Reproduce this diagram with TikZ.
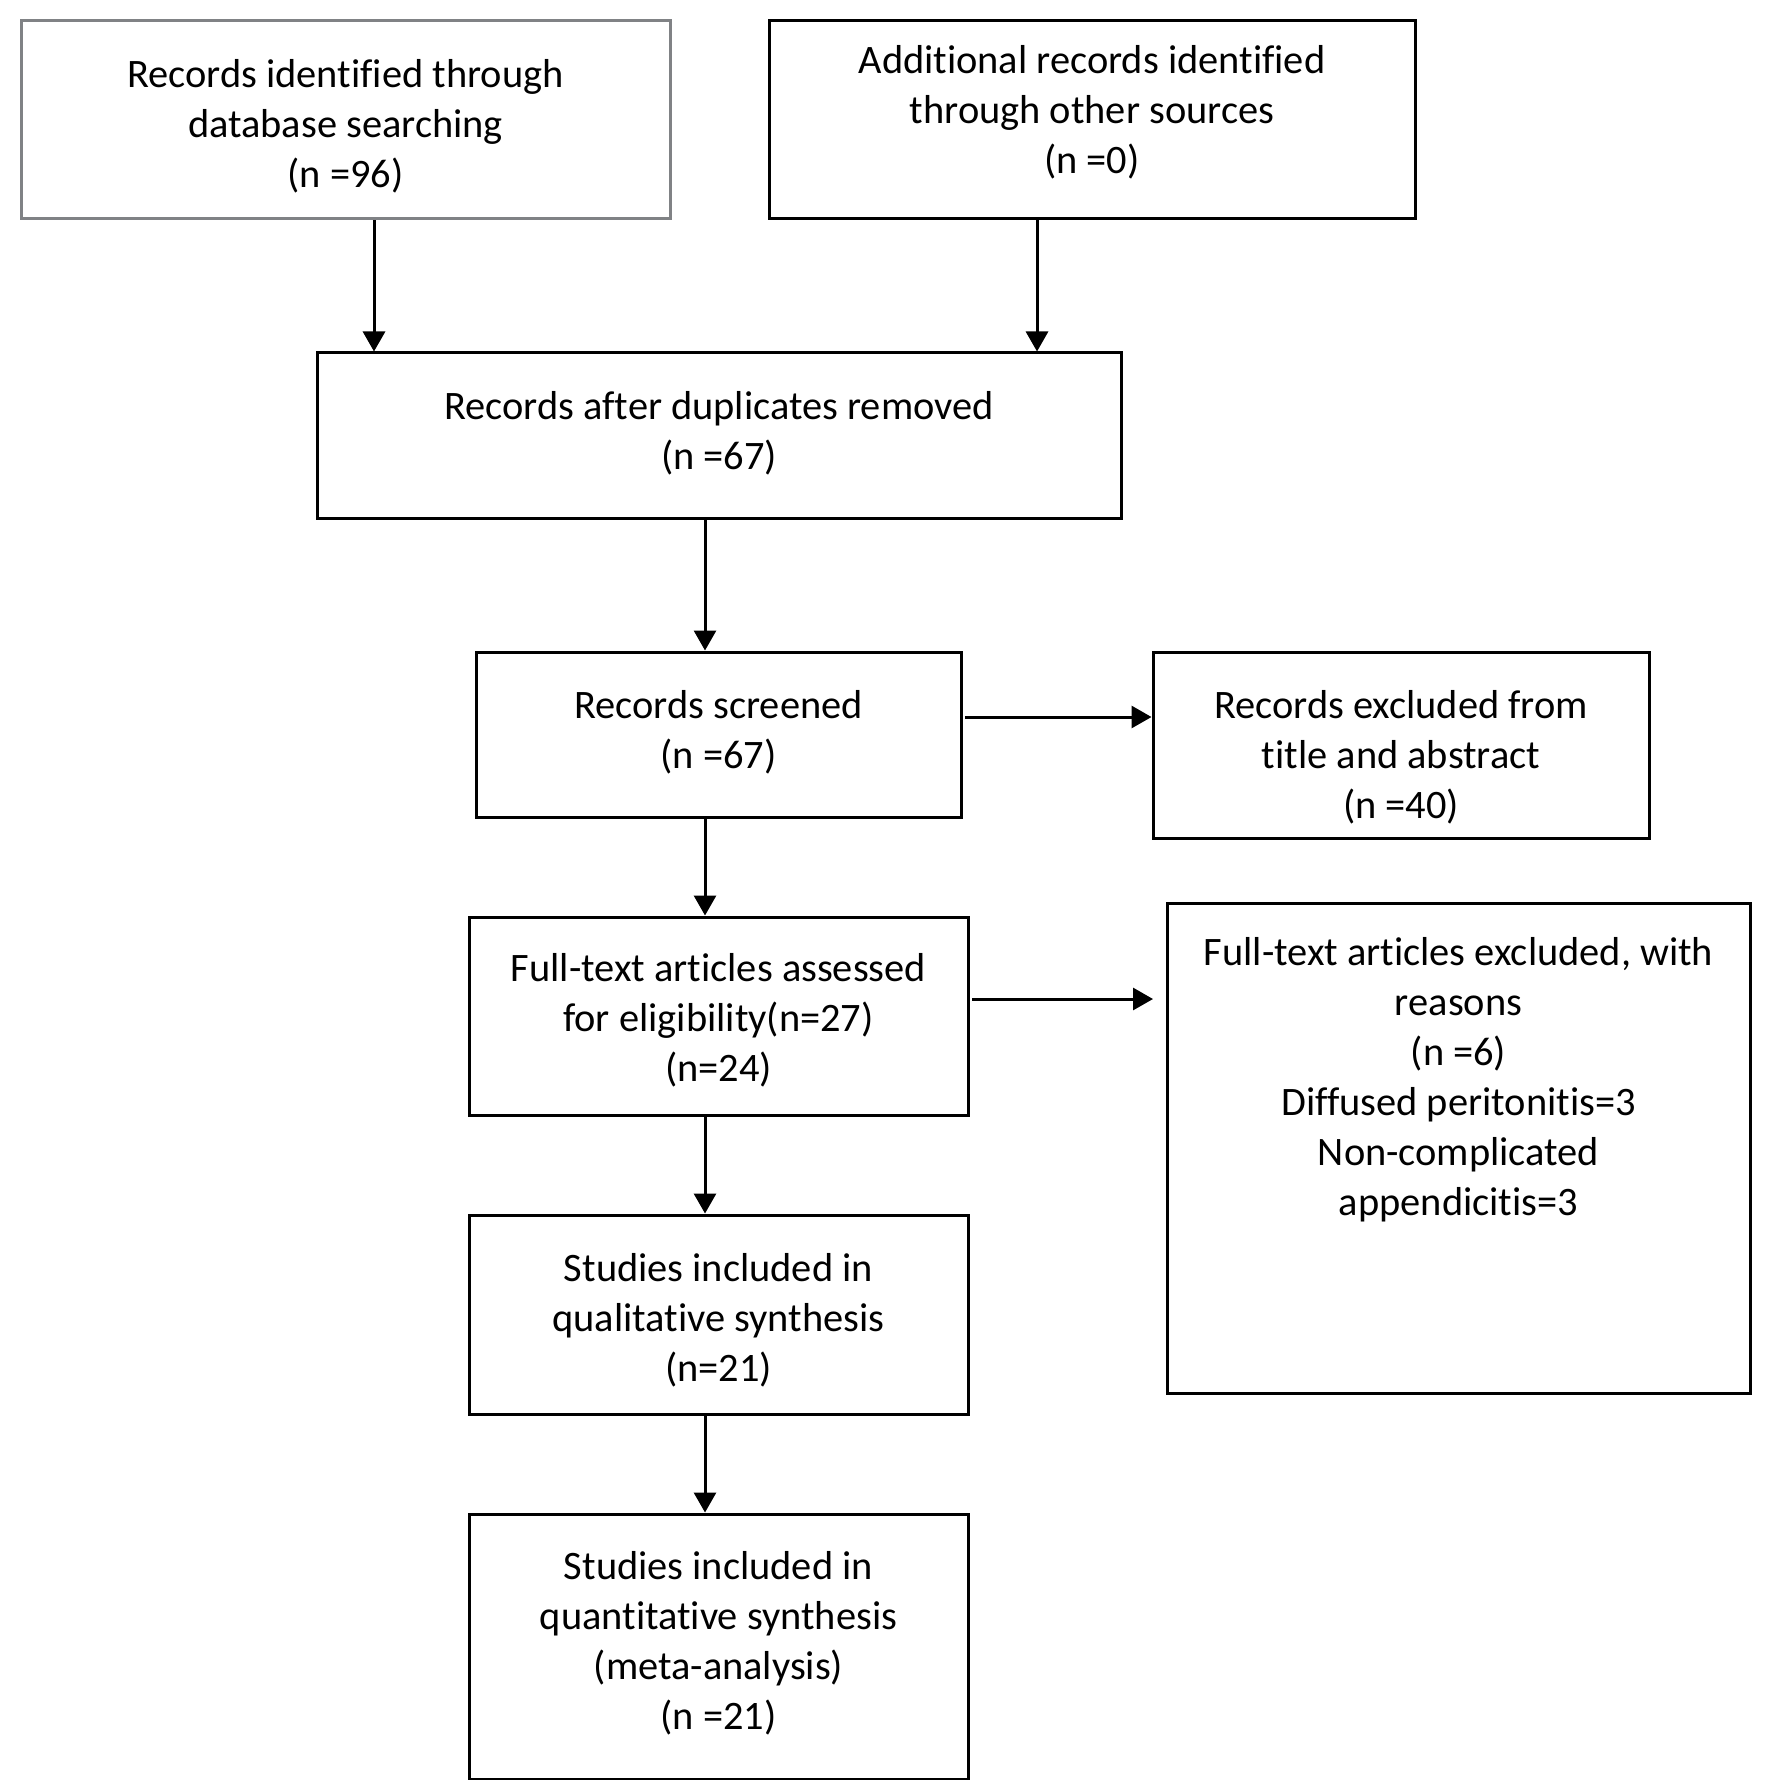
\documentclass[tikz,border=0pt]{standalone}
\usepackage{fontspec}
\setmainfont[Ligatures=NoCommon]{Carlito}
\usetikzlibrary{arrows.meta}
\definecolor{boxgray}{RGB}{128,130,133}
\tikzset{
  box/.style={draw=black, line width=1.5pt, rectangle, inner sep=0pt},
  txt/.style={align=center, inner sep=0pt, font=\fontsize{20.2pt}{25pt}\selectfont},
  arr/.style={line width=1.5pt, -{Triangle[length=10pt,width=11pt]}}
}
\begin{document}
\begin{tikzpicture}[x=0.5pt,y=-0.5pt]
\useasboundingbox (0,0) rectangle (1772,1780);
% boxes
\node[box, draw=boxgray, minimum width=324.5pt, minimum height=99pt] (b1) at (345.5,120) {};
\node[box, minimum width=323pt, minimum height=99pt] (b2) at (1092,120) {};
\node[box, minimum width=402pt, minimum height=83pt] (b3) at (719,436) {};
\node[box, minimum width=242.5pt, minimum height=82.5pt] (b4) at (718.5,734.5) {};
\node[box, minimum width=248pt, minimum height=93pt] (b5) at (1401,745) {};
\node[box, minimum width=249.5pt, minimum height=99pt] (b6) at (718.5,1016) {};
\node[box, minimum width=291.5pt, minimum height=245pt] (b7) at (1458.5,1148) {};
\node[box, minimum width=249.5pt, minimum height=99.5pt] (b8) at (718.5,1314.5) {};
\node[box, minimum width=249.5pt, minimum height=132.5pt] (b9) at (718.5,1646.5) {};
% texts
\node[txt] (t1) at (345.5,126) {Records identified through\\database searching\\(n =96)};
\node[txt] (t2) at (1092,112) {Additional records identified\\through other sources\\(n =0)};
\node[txt] (t3) at (719,433) {Records after duplicates removed\\(n =67)};
\node[txt] (t4) at (718.5,732.5) {Records screened\\(n =67)};
\node[txt] (t5) at (1401,757.5) {Records excluded from\\title and abstract\\(n =40)};
\node[txt] (t6) at (718.5,1020.5) {Full-text articles assessed\\for eligibility(n=27)\\(n=24)};
\node[txt] (t7) at (1458.5,1080)
  {Full-text articles excluded, with\\reasons\\(n =6)\\Diffused peritonitis=3\\Non-complicated\\appendicitis=3};
\node[txt] (t8) at (718.5,1320) {Studies included in\\qualitative synthesis\\(n=21)};
\node[txt] (t9) at (718.5,1643) {Studies included in\\quantitative synthesis\\(meta-analysis)\\(n =21)};
% arrow guide coordinates
\coordinate (c1) at (374,0);
\coordinate (c2) at (1037,0);
\coordinate (cm) at (705,0);
\coordinate (h1) at (0,717);
\coordinate (e1s) at (965,717);
\coordinate (e2s) at (972,999);
\coordinate (e2e) at (1153,999);
\draw[arr] (c1 |- b1.south) -- (c1 |- b3.north);
\draw[arr] (c2 |- b2.south) -- (c2 |- b3.north);
\draw[arr] (cm |- b3.south) -- (cm |- b4.north);
\draw[arr] (e1s) -- (h1 -| b5.west);
\draw[arr] (cm |- b4.south) -- (cm |- b6.north);
\draw[arr] (e2s) -- (e2e);
\draw[arr] (cm |- b6.south) -- (cm |- b8.north);
\draw[arr] (cm |- b8.south) -- (cm |- b9.north);
\end{tikzpicture}
\end{document}
